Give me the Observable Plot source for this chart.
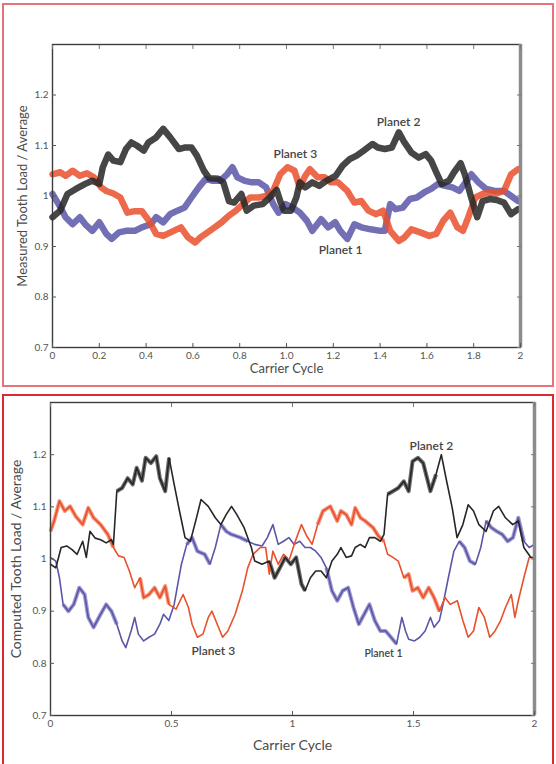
<!DOCTYPE html>
<html>
<head>
<meta charset="utf-8">
<script src="https://cdn.jsdelivr.net/npm/d3@7"></script>
<script src="https://cdn.jsdelivr.net/npm/@observablehq/plot@0.6"></script>
<style>
  body { margin: 0; background: #fff; width: 556px; height: 764px; position: relative; overflow: hidden; font-family: Lato, "Open Sans", sans-serif; }
  .panel { position: absolute; left: 0; width: 556px; }
  .box { position: absolute; pointer-events: none; box-sizing: border-box; }
</style>
</head>
<body>
<div id="measured" class="panel" style="top:0;height:390px"></div>
<div id="computed" class="panel" style="top:390px;height:374px"></div>
<div class="box" style="left:2px;top:3px;width:552px;height:384px;border:2px solid #e4737a"></div>
<div class="box" style="left:2px;top:394px;width:552px;height:380px;border:2px solid #dc2a30"></div>
<script>
// Measured tooth load / average, per planet, against carrier cycle [cycle, load]
const measuredPlanet1 = [[0,1.004],[0.026,0.984],[0.056,0.958],[0.086,0.944],[0.117,0.958],[0.14,0.944],[0.17,0.931],[0.2,0.948],[0.23,0.925],[0.253,0.915],[0.284,0.928],[0.314,0.931],[0.352,0.931],[0.382,0.938],[0.42,0.944],[0.443,0.958],[0.473,0.948],[0.503,0.964],[0.534,0.971],[0.564,0.977],[0.594,0.997],[0.625,1.017],[0.655,1.034],[0.685,1.03],[0.716,1.03],[0.746,1.043],[0.769,1.057],[0.79,1.037],[0.822,1.03],[0.852,1.027],[0.882,1.027],[0.913,1.017],[0.943,0.984],[0.966,0.967],[0.996,0.984],[1.027,0.977],[1.057,0.967],[1.087,0.951],[1.11,0.931],[1.148,0.954],[1.178,0.938],[1.208,0.948],[1.23,0.931],[1.26,0.915],[1.29,0.944],[1.32,0.938],[1.36,0.934],[1.4,0.931],[1.42,0.931],[1.443,0.984],[1.466,0.974],[1.497,0.977],[1.527,0.994],[1.557,0.997],[1.588,1.007],[1.618,1.014],[1.648,1.024],[1.678,1.02],[1.709,1.017],[1.739,1.01],[1.77,1.03],[1.79,1.043],[1.82,1.027],[1.853,1.014],[1.89,1.01],[1.929,1.01],[1.96,1.0],[1.99,0.99]];
const measuredPlanet2 = [[0,0.958],[0.033,0.971],[0.064,1.004],[0.1,1.014],[0.14,1.024],[0.17,1.03],[0.2,1.024],[0.215,1.057],[0.238,1.082],[0.26,1.07],[0.29,1.067],[0.314,1.093],[0.337,1.106],[0.36,1.1],[0.39,1.09],[0.41,1.106],[0.443,1.116],[0.473,1.133],[0.503,1.116],[0.54,1.093],[0.564,1.096],[0.594,1.096],[0.617,1.08],[0.647,1.05],[0.67,1.035],[0.708,1.034],[0.73,1.027],[0.754,0.99],[0.776,0.987],[0.807,1.004],[0.83,0.971],[0.86,0.981],[0.898,0.984],[0.928,0.997],[0.958,1.012],[0.973,0.99],[0.989,0.971],[1.019,0.971],[1.042,0.997],[1.057,1.027],[1.08,1.017],[1.11,1.027],[1.14,1.02],[1.17,1.03],[1.21,1.04],[1.24,1.06],[1.27,1.073],[1.3,1.08],[1.33,1.09],[1.368,1.103],[1.39,1.096],[1.42,1.093],[1.45,1.096],[1.48,1.126],[1.504,1.106],[1.534,1.086],[1.565,1.076],[1.595,1.083],[1.618,1.07],[1.64,1.047],[1.663,1.024],[1.694,1.03],[1.716,1.047],[1.744,1.065],[1.762,1.043],[1.785,1.004],[1.815,0.958],[1.838,0.99],[1.868,0.994],[1.898,0.992],[1.929,0.987],[1.96,0.964],[1.99,0.974]];
const measuredPlanet3 = [[0,1.043],[0.033,1.047],[0.056,1.04],[0.086,1.05],[0.117,1.04],[0.147,1.045],[0.177,1.037],[0.208,1.017],[0.23,1.01],[0.26,1.005],[0.29,0.997],[0.32,0.967],[0.352,0.97],[0.382,0.97],[0.412,0.951],[0.443,0.925],[0.473,0.921],[0.518,0.931],[0.549,0.938],[0.579,0.918],[0.61,0.908],[0.632,0.918],[0.663,0.928],[0.693,0.938],[0.723,0.948],[0.754,0.961],[0.784,0.971],[0.814,0.984],[0.845,0.997],[0.882,0.997],[0.913,1.0],[0.943,1.01],[0.973,1.043],[1.004,1.057],[1.034,1.05],[1.057,1.017],[1.08,1.04],[1.1,1.053],[1.133,1.037],[1.163,1.037],[1.19,1.027],[1.22,1.027],[1.26,1.01],[1.29,0.987],[1.32,0.99],[1.35,0.971],[1.383,0.964],[1.413,0.971],[1.443,0.931],[1.48,0.911],[1.504,0.918],[1.534,0.934],[1.572,0.928],[1.61,0.921],[1.64,0.925],[1.67,0.951],[1.7,0.967],[1.73,0.938],[1.754,0.931],[1.777,0.958],[1.807,0.997],[1.838,1.004],[1.868,1.007],[1.898,1.005],[1.929,1.01],[1.96,1.043],[1.99,1.053]];

// Computed tooth load / average, per planet [cycle, load]
const computedPlanet1 = [[0,1.003],[0.022,0.996],[0.037,0.964],[0.052,0.913],[0.074,0.9],[0.096,0.913],[0.119,0.945],[0.141,0.932],[0.156,0.888],[0.178,0.869],[0.207,0.894],[0.23,0.913],[0.252,0.9],[0.274,0.875],[0.296,0.843],[0.311,0.83],[0.333,0.862],[0.348,0.888],[0.363,0.856],[0.385,0.843],[0.407,0.85],[0.43,0.856],[0.452,0.875],[0.467,0.894],[0.489,0.882],[0.511,0.913],[0.526,0.952],[0.541,0.99],[0.563,1.028],[0.585,1.041],[0.607,1.015],[0.637,1.009],[0.659,0.99],[0.681,1.022],[0.704,1.066],[0.726,1.053],[0.748,1.047],[0.785,1.041],[0.815,1.034],[0.844,1.028],[0.874,1.025],[0.896,1.041],[0.919,1.066],[0.941,1.028],[0.963,1.034],[0.985,1.041],[1.007,1.028],[1.03,1.034],[1.052,1.022],[1.074,1.022],[1.096,1.015],[1.118,1.003],[1.14,0.983],[1.163,0.939],[1.185,0.92],[1.207,0.939],[1.23,0.945],[1.252,0.907],[1.274,0.875],[1.296,0.894],[1.318,0.913],[1.34,0.882],[1.363,0.862],[1.385,0.862],[1.407,0.85],[1.43,0.837],[1.452,0.888],[1.467,0.862],[1.48,0.846],[1.504,0.843],[1.526,0.85],[1.548,0.862],[1.57,0.888],[1.585,0.869],[1.607,0.882],[1.622,0.913],[1.644,0.964],[1.667,1.015],[1.689,1.034],[1.711,1.022],[1.733,0.996],[1.756,0.99],[1.778,1.022],[1.8,1.073],[1.822,1.06],[1.844,1.053],[1.867,1.047],[1.889,1.034],[1.911,1.041],[1.933,1.079],[1.956,1.034],[1.978,1.022],[2.0,1.028]];
const computedPlanet2 = [[0,0.99],[0.022,0.983],[0.044,1.022],[0.067,1.025],[0.089,1.018],[0.11,1.009],[0.133,1.034],[0.148,1.003],[0.163,1.053],[0.185,1.04],[0.207,1.037],[0.23,1.031],[0.252,1.037],[0.26,1.028],[0.274,1.13],[0.296,1.136],[0.319,1.155],[0.34,1.143],[0.356,1.175],[0.378,1.15],[0.393,1.194],[0.415,1.184],[0.437,1.197],[0.452,1.155],[0.474,1.13],[0.49,1.194],[0.511,1.143],[0.533,1.092],[0.556,1.041],[0.578,1.034],[0.6,1.073],[0.622,1.114],[0.652,1.101],[0.681,1.079],[0.704,1.066],[0.726,1.085],[0.748,1.101],[0.77,1.085],[0.8,1.06],[0.83,1.022],[0.844,0.996],[0.874,0.99],[0.904,0.996],[0.926,0.964],[0.948,0.983],[0.97,1.003],[0.993,0.99],[1.015,1.003],[1.037,0.952],[1.052,0.939],[1.074,0.964],[1.096,0.977],[1.118,0.977],[1.14,0.964],[1.163,0.996],[1.185,1.009],[1.2,1.022],[1.222,1.003],[1.244,1.006],[1.259,1.022],[1.28,1.028],[1.3,1.022],[1.318,1.041],[1.34,1.041],[1.363,1.034],[1.378,1.047],[1.393,1.124],[1.415,1.13],[1.437,1.136],[1.46,1.149],[1.48,1.13],[1.496,1.187],[1.518,1.194],[1.54,1.184],[1.556,1.155],[1.57,1.13],[1.593,1.162],[1.615,1.2],[1.637,1.149],[1.66,1.098],[1.68,1.041],[1.704,1.066],[1.726,1.104],[1.748,1.092],[1.77,1.066],[1.8,1.053],[1.83,1.092],[1.852,1.101],[1.88,1.079],[1.91,1.066],[1.933,1.073],[1.956,1.022],[1.985,1.003],[2.0,1.003]];
const computedPlanet3 = [[0,1.053],[0.015,1.073],[0.037,1.111],[0.059,1.092],[0.081,1.101],[0.104,1.082],[0.133,1.066],[0.156,1.098],[0.178,1.079],[0.207,1.066],[0.237,1.047],[0.26,1.022],[0.281,1.006],[0.304,1.003],[0.326,0.977],[0.348,0.945],[0.37,0.964],[0.385,0.926],[0.407,0.932],[0.43,0.945],[0.452,0.926],[0.474,0.948],[0.489,0.913],[0.519,0.904],[0.548,0.932],[0.57,0.907],[0.585,0.875],[0.607,0.85],[0.63,0.856],[0.652,0.888],[0.667,0.9],[0.689,0.875],[0.711,0.85],[0.733,0.862],[0.763,0.894],[0.793,0.939],[0.815,0.983],[0.837,1.009],[0.867,1.022],[0.889,1.022],[0.904,0.971],[0.919,1.015],[0.941,0.99],[0.963,1.009],[0.985,0.996],[1.007,1.028],[1.037,1.066],[1.059,1.044],[1.081,1.028],[1.104,1.066],[1.126,1.092],[1.156,1.101],[1.185,1.073],[1.2,1.092],[1.222,1.085],[1.244,1.066],[1.259,1.098],[1.281,1.079],[1.3,1.073],[1.333,1.06],[1.355,1.044],[1.378,1.034],[1.393,1.009],[1.415,1.003],[1.437,0.996],[1.46,0.964],[1.48,0.971],[1.496,0.939],[1.518,0.945],[1.54,0.926],[1.563,0.945],[1.585,0.926],[1.607,0.9],[1.63,0.926],[1.652,0.913],[1.681,0.92],[1.704,0.882],[1.726,0.85],[1.748,0.862],[1.77,0.907],[1.793,0.888],[1.815,0.85],[1.837,0.862],[1.86,0.882],[1.88,0.907],[1.904,0.932],[1.919,0.888],[1.933,0.92],[1.956,0.964],[1.978,1.003],[2.0,1.003]];

// Cycle intervals where the computed traces carry a broad high-frequency band
const computedPlanet1Band = [[0.04, 0.29], [0.56, 0.67], [0.70, 0.82], [1.14, 1.43], [1.67, 1.76], [1.80, 1.96]];
const computedPlanet2Band = [[0.27, 0.50], [0.90, 1.06], [1.39, 1.60]];
const computedPlanet3Band = [[0.0, 0.26], [0.35, 0.49], [1.10, 1.38], [1.45, 1.62]];

// Axis ticks
const loadTicks = [0.7, 0.8, 0.9, 1, 1.1, 1.2];
const loadTickLabels = ["0.7", "0.8", "0.9", "1", "1.1", "1.2"];
const measuredCycleTicks = [0, 0.2, 0.4, 0.6, 0.8, 1, 1.2, 1.4, 1.6, 1.8, 2];
const measuredCycleTickLabels = ["0", "0.2", "0.4", "0.6", "0.8", "1.0", "1.2", "1.4", "1.6", "1.8", "2"];
const computedCycleTicks = [0, 0.5, 1, 1.5, 2];
const computedCycleTickLabels = ["0", "0.5", "1", "1.5", "2"];

// Planet labels placed in data space [name, cycle, load]
const measuredLabels = [["Planet 2", 1.479, 1.146], ["Planet 3", 1.038, 1.082], ["Planet 1", 1.231, 0.892]];
const computedLabels = [["Planet 2", 1.574, 1.217], ["Planet 3", 0.673, 0.824], ["Planet 1", 1.376, 0.819]];
const labelSizes = { measured: [12, 12, 12], computed: [12, 12, 10.5] };

const planetColors = { 1: "#5a56a8", 2: "#262626", 3: "#e9502c" };
const bandColors = { 1: "#7670bd", 2: "#2e2e2e", 3: "#ee6a45" };

function rows(arr, planet) {
  return arr.map(([cycle, load]) => ({ cycle, load, planet }));
}

// Split a trace into the runs that fall inside the given cycle intervals
function bandRows(arr, planet, intervals) {
  const out = [];
  intervals.forEach(([a, b], k) => {
    arr.forEach(([cycle, load]) => {
      if (cycle >= a && cycle <= b) out.push({ cycle, load, planet, run: planet + "-" + k });
    });
  });
  return out;
}

function panel({ series, bands, labels, sizes, yLabel, xTicks, xTickLabels, width, height, margins, lineWidth, lineOpacity, bandWidth, yLabelDx, xLabelDy, axisFont, titleFont }) {
  const fmtX = (d) => xTickLabels[xTicks.indexOf(d)];
  const fmtY = (d) => loadTickLabels[loadTicks.indexOf(d)];
  const blank = () => "";
  const data = series.flatMap(([arr, p]) => rows(arr, p));
  const bandData = bands ? bands.flatMap(([arr, p, iv]) => bandRows(arr, p, iv)) : [];
  const lbl = labels.map(([name, cycle, load], i) => ({ name, cycle, load, size: sizes[i] }));
  return Plot.plot({
    width, height,
    marginLeft: margins[0], marginRight: margins[1], marginTop: margins[2], marginBottom: margins[3],
    style: { fontFamily: "Lato, 'Open Sans', sans-serif", background: "transparent", overflow: "visible" },
    x: { domain: [0, 2] },
    y: { domain: [0.7, 1.3] },
    marks: [
      Plot.line(bandData, {
        x: "cycle", y: "load", z: "run",
        stroke: (d) => bandColors[d.planet],
        strokeWidth: bandWidth, strokeOpacity: 0.7,
        strokeLinejoin: "round", strokeLinecap: "butt"
      }),
      Plot.line(data, {
        x: "cycle", y: "load", z: "planet",
        stroke: (d) => planetColors[d.planet],
        strokeWidth: lineWidth, strokeOpacity: lineOpacity,
        strokeLinejoin: "round", strokeLinecap: "round"
      }),
      Plot.frame({ stroke: "#3c3c3c", strokeWidth: 1.4 }),
      Plot.ruleX([2], { stroke: "#8c8c8c", strokeWidth: 3.5 }),
      Plot.axisX(xTicks, { anchor: "bottom", tickSize: -4, tickPadding: 8, tickFormat: fmtX, fontSize: axisFont, color: "#555", label: null }),
      Plot.axisX(xTicks, { anchor: "top", tickSize: -4, tickFormat: blank, color: "#777", label: null }),
      Plot.axisY(loadTicks, { anchor: "left", tickSize: -4, tickPadding: 8, tickFormat: fmtY, fontSize: axisFont, color: "#555", label: null }),
      Plot.axisY(loadTicks, { anchor: "right", tickSize: -4, tickFormat: blank, color: "#777", label: null }),
      Plot.text(["Carrier Cycle"], { frameAnchor: "bottom", lineAnchor: "middle", dy: xLabelDy, fontSize: titleFont, fill: "#4a4a4a" }),
      Plot.text([yLabel], { frameAnchor: "left", textAnchor: "middle", lineAnchor: "middle", rotate: -90, dx: yLabelDx, fontSize: titleFont, fill: "#4a4a4a" }),
      Plot.text(lbl, { x: "cycle", y: "load", text: "name", fontSize: (d) => d.size, fill: "#444", fontWeight: 600 })
    ]
  });
}

document.getElementById("measured").append(panel({
  series: [[measuredPlanet1, 1], [measuredPlanet3, 3], [measuredPlanet2, 2]],
  labels: measuredLabels, sizes: labelSizes.measured,
  yLabel: "Measured Tooth Load / Average",
  xTicks: measuredCycleTicks, xTickLabels: measuredCycleTickLabels,
  width: 556, height: 390, margins: [52, 36, 44, 43],
  lineWidth: 6.5, lineOpacity: 0.85, bandWidth: 0, yLabelDx: -30, xLabelDy: 21, axisFont: 10, titleFont: 13
}));

document.getElementById("computed").append(panel({
  series: [[computedPlanet1, 1], [computedPlanet3, 3], [computedPlanet2, 2]],
  bands: [[computedPlanet1, 1, computedPlanet1Band], [computedPlanet3, 3, computedPlanet3Band], [computedPlanet2, 2, computedPlanet2Band]],
  labels: computedLabels, sizes: labelSizes.computed,
  yLabel: "Computed Tooth Load / Average",
  xTicks: computedCycleTicks, xTickLabels: computedCycleTickLabels,
  width: 556, height: 374, margins: [50, 22, 12, 49],
  lineWidth: 1.6, lineOpacity: 1, bandWidth: 4, yLabelDx: -34, xLabelDy: 30, axisFont: 10, titleFont: 14
}));
</script>
</body>
</html>
